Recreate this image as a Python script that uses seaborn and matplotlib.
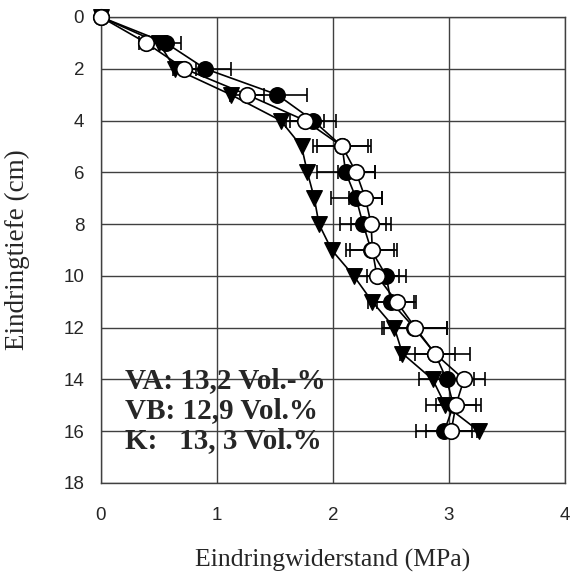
import numpy as np
import pandas as pd
import matplotlib
matplotlib.use("Agg")
import matplotlib.pyplot as plt
import seaborn as sns

# Penetration depth (cm)
depth = [0, 1, 2, 3, 4, 5, 6, 7, 8, 9, 10, 11, 12, 13, 14, 15, 16]

# Penetration resistance (MPa) per variant
va_mean = [0, 0.56, 0.90, 1.52, 1.83, 2.08, 2.11, 2.20, 2.26, 2.33, 2.46, 2.50, 2.70, 2.88, 2.98, 3.04, 2.96]
va_err = [0, 0.13, 0.22, 0.26, 0.20, 0.25, 0.25, 0.22, 0.20, 0.22, 0.17, 0.20, 0.28, 0.17, 0.24, 0.24, 0.24]

vb_mean = [0, 0.39, 0.72, 1.26, 1.76, 2.08, 2.20, 2.28, 2.33, 2.34, 2.38, 2.55, 2.71, 2.88, 3.13, 3.06, 3.02]
vb_err = [0, 0.06, 0.10, 0.15, 0.16, 0.22, 0.16, 0.14, 0.17, 0.19, 0.19, 0.17, 0.27, 0.30, 0.18, 0.17, 0.22]

k_mean = [0, 0.50, 0.64, 1.12, 1.55, 1.73, 1.78, 1.84, 1.88, 1.99, 2.18, 2.34, 2.53, 2.60, 2.86, 2.97, 3.26]

legend_lines = ["VA: 13,2 Vol.-%", "VB: 12,9 Vol.%", "K:   13, 3 Vol.%"]

x_ticks = [0, 1, 2, 3, 4]
y_ticks = [0, 2, 4, 6, 8, 10, 12, 14, 16, 18]

df = pd.concat([
    pd.DataFrame({"depth": depth, "mpa": va_mean, "var": "VA"}),
    pd.DataFrame({"depth": depth, "mpa": vb_mean, "var": "VB"}),
    pd.DataFrame({"depth": depth, "mpa": k_mean, "var": "K"}),
])

sns.set_style("white")
plt.rcParams["font.family"] = ["Liberation Sans", "DejaVu Sans"]

fig = plt.figure(figsize=(5.7, 5.76), dpi=100)
ax = fig.add_axes([0.177, 0.1615, 0.814, 0.809])

# connecting lines
sns.lineplot(data=df, x="mpa", y="depth", units="var", estimator=None,
             orient="y", color="black", lw=1.2, ax=ax, zorder=2, legend=False)

# error bars for the two V variants
for m, e in ((va_mean, va_err), (vb_mean, vb_err)):
    ax.errorbar(m, depth, xerr=e, fmt="none", ecolor="black",
                elinewidth=1.2, capsize=5, capthick=1.2, zorder=3)

# markers
kw = dict(s=125, ax=ax, clip_on=False, edgecolor="black")
sns.scatterplot(x=k_mean, y=depth, marker="v", color="black",
                linewidth=1, zorder=4, **kw)
sns.scatterplot(x=va_mean, y=depth, marker="o", color="black",
                linewidth=1, zorder=5, **kw)
sns.scatterplot(x=vb_mean, y=depth, marker="o", color="white",
                linewidth=1.2, zorder=6, **kw)

ax.set_xlim(0, 4)
ax.set_ylim(18, 0)
ax.set_xticks(x_ticks)
ax.set_yticks(y_ticks)
ax.grid(True, color="#404040", lw=1.0)
ax.set_axisbelow(True)
for s in ax.spines.values():
    s.set_color("#404040")
    s.set_linewidth(1.0)
ax.tick_params(axis="both", direction="inout", length=12, width=1,
               color="#404040", labelsize=13.5, pad=6)
ax.tick_params(axis="x", pad=11)

ax.set_xlabel("Eindringwiderstand (MPa)", family="Liberation Serif",
              fontsize=18.5, labelpad=18)
ax.set_ylabel("Eindringtiefe (cm)", family="Liberation Serif",
              fontsize=19.5, labelpad=24)

for i, t in enumerate(legend_lines):
    ax.text(0.21, 14.05 + 1.15 * i, t, family="Liberation Serif",
            fontweight="bold", fontsize=21, va="center", ha="left", zorder=7)

fig.savefig("out.png", dpi=100)
